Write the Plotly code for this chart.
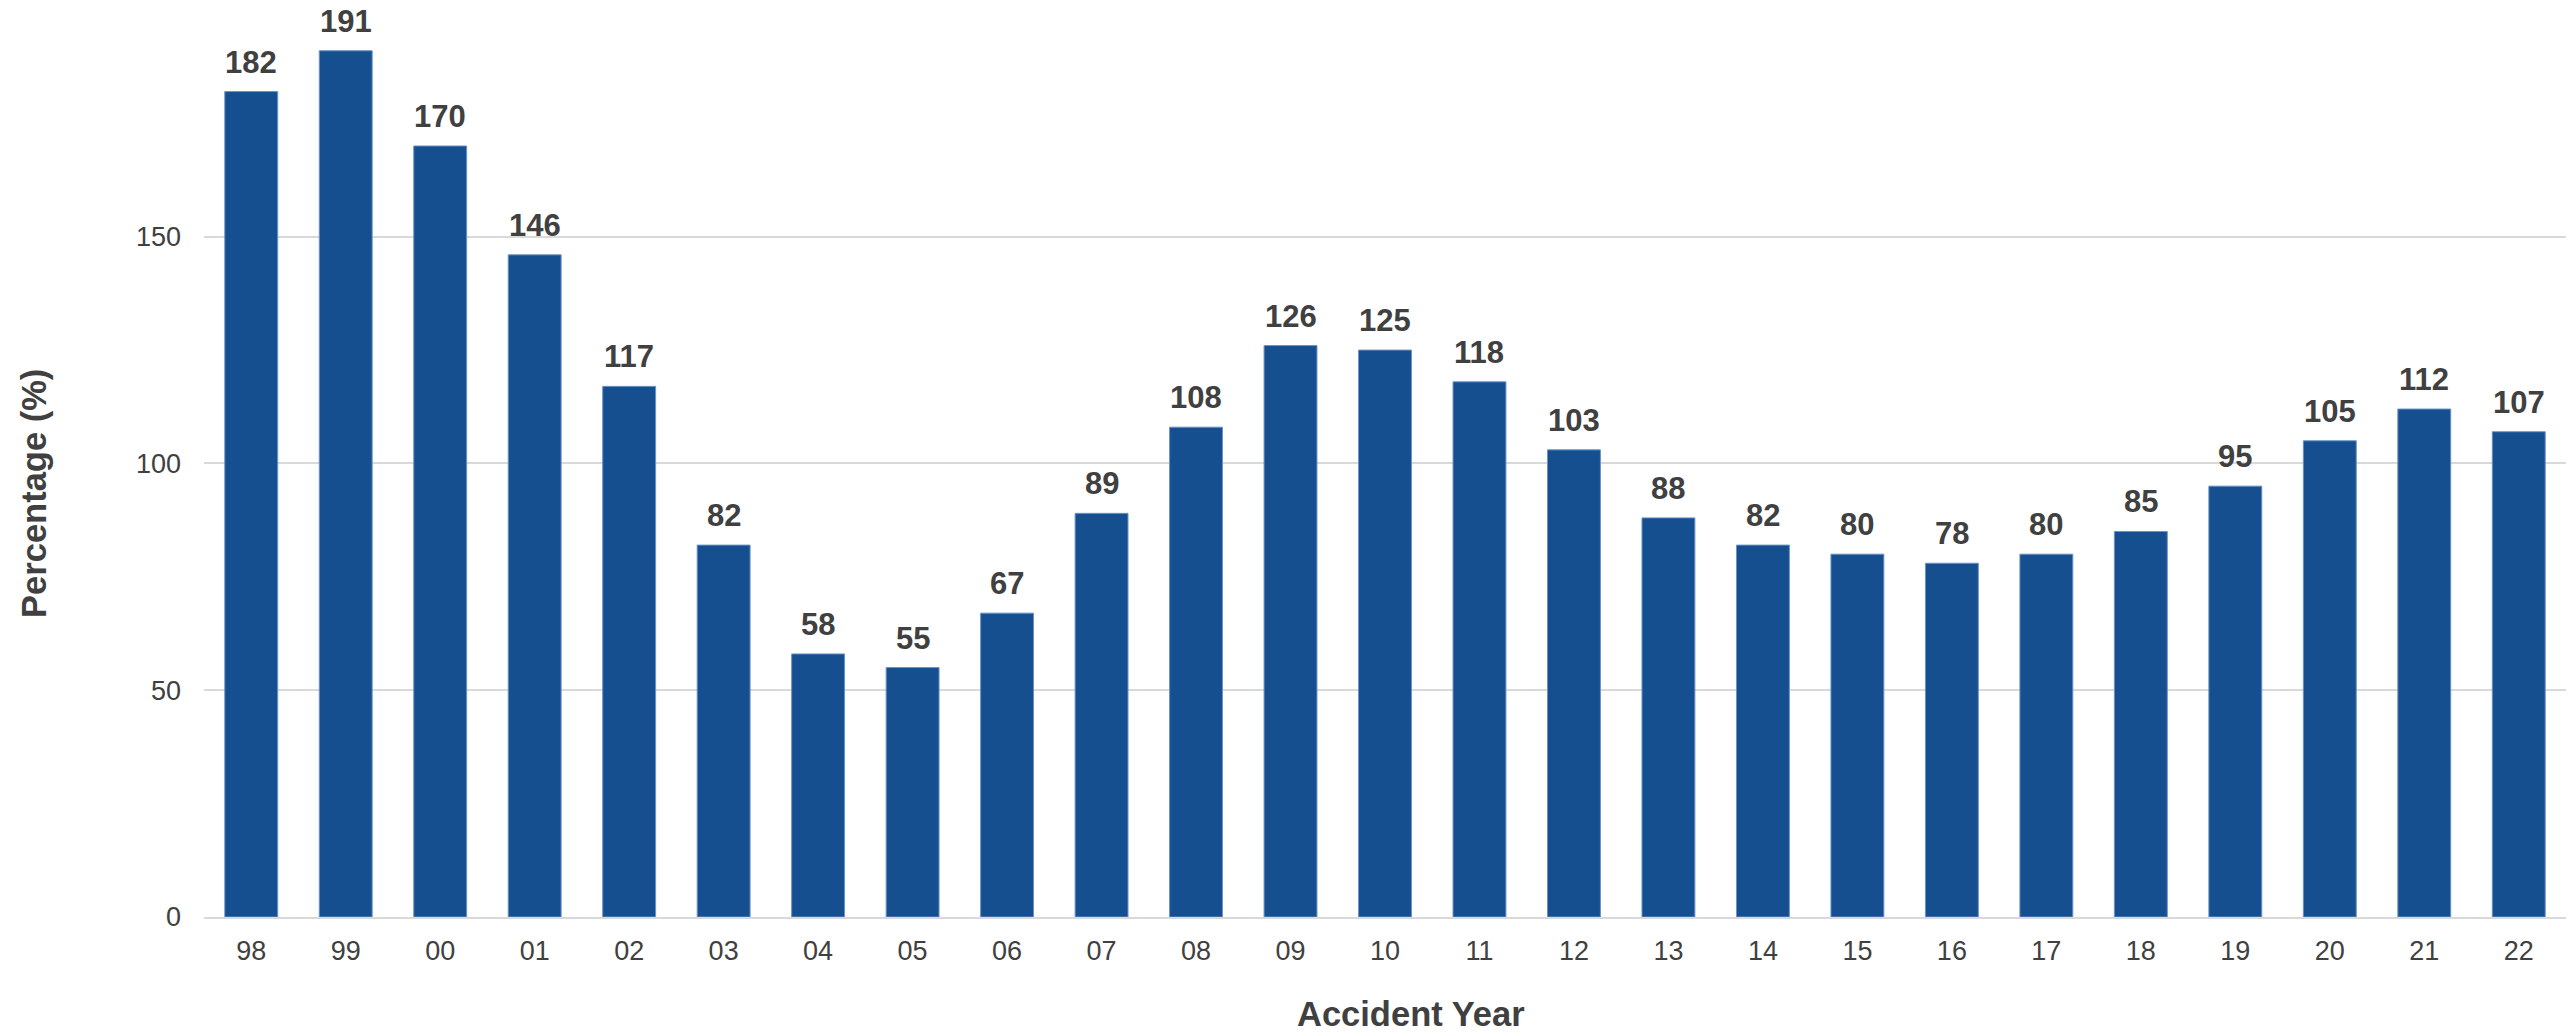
import plotly.graph_objects as go

years = ["98", "99", "00", "01", "02", "03", "04", "05", "06", "07", "08", "09", "10",
         "11", "12", "13", "14", "15", "16", "17", "18", "19", "20", "21", "22"]
values = [182, 191, 170, 146, 117, 82, 58, 55, 67, 89, 108, 126, 125,
          118, 103, 88, 82, 80, 78, 80, 85, 95, 105, 112, 107]
y_ticks = [0, 50, 100, 150]
x_title = "Accident Year"
y_title = "Percentage (%)"

FONT = "Liberation Sans, Arial, sans-serif"
TXT = "#404040"
BAR = "#154F8F"

fig = go.Figure()
fig.add_trace(go.Bar(
    x=years, y=values,
    marker=dict(color=BAR, line=dict(color="#6A92C6", width=1)),
    hoverinfo="x+y",
))

# value labels: category axes place annotations by category index
for i, v in enumerate(values):
    fig.add_annotation(
        x=i, y=v, xref="x", yref="y",
        text=f"<b>{v}</b>", showarrow=False,
        yanchor="bottom", yshift=10,
        font=dict(family=FONT, size=31, color=TXT),
    )

# axis titles
fig.add_annotation(
    x=0.511, y=-0.108, xref="paper", yref="paper",
    text=f"<b>{x_title}</b>", showarrow=False,
    xanchor="center", yanchor="middle", borderpad=0,
    font=dict(family=FONT, size=34.5, color=TXT),
)
fig.add_annotation(
    x=-0.072, y=0.4722, xref="paper", yref="paper",
    text=f"<b>{y_title}</b>", showarrow=False, textangle=-90,
    xanchor="center", yanchor="middle",
    font=dict(family=FONT, size=34.5, color=TXT),
)

fig.update_layout(
    width=2569, height=1036,
    margin=dict(l=204, r=3, t=19, b=119, autoexpand=False),
    paper_bgcolor="white", plot_bgcolor="white",
    bargap=0.44,
    showlegend=False,
    font=dict(family=FONT, color=TXT),
    xaxis=dict(
        type="category",
        range=[-0.5, len(years) - 0.5],
        tickfont=dict(size=27, color=TXT, family=FONT),
        ticks="", ticklabelstandoff=9,
        showgrid=False, showline=True, linecolor="#D9D9D9", linewidth=2,
        automargin=False,
    ),
    yaxis=dict(
        range=[0, 198],
        tickvals=y_ticks,
        tickfont=dict(size=27, color=TXT, family=FONT),
        ticks="", ticklabelstandoff=22,
        showgrid=True, gridcolor="#D9D9D9", gridwidth=2,
        zeroline=False, showline=False,
        automargin=False,
    ),
)

fig.write_html("out.html", config={"displayModeBar": False},
               post_script="document.body.style.margin='0px';")
